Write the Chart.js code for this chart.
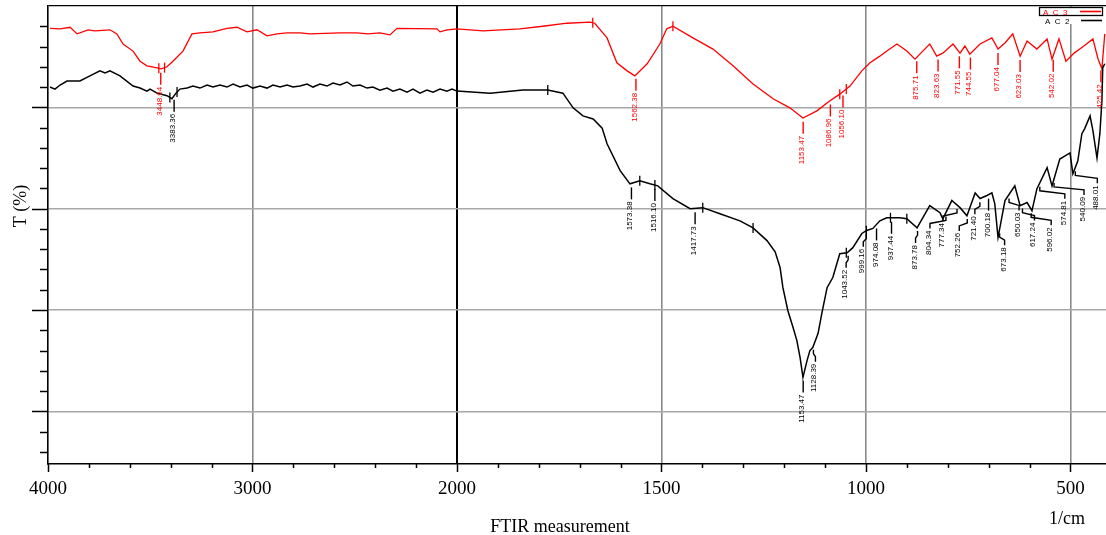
<!DOCTYPE html>
<html>
<head>
<meta charset="utf-8">
<title>FTIR AC2 / AC3</title>
<script src="https://cdn.jsdelivr.net/npm/chart.js@4.4.1/dist/chart.umd.min.js"></script>
<style>
html,body{margin:0;padding:0;background:#fff;}
#wrap{width:1106px;height:535px;position:relative;}
</style>
</head>
<body>
<div id="wrap"><canvas id="ftir_chart"></canvas></div>
<script>
// AC3 (red) : wavenumber (1/cm) and transmittance
const ac3Wn = [3990,3941,3892,3858,3804,3770,3697,3663,3633,3584,3550,3516,3467,3447,3418,3389,3340,3296,3257,3193,3125,3076,3027,2978,2929,2880,2831,2768,2719,2572,2489,2435,2377,2328,2293,2098,2083,2049,2000,1936,1846,1790,1731,1675,1663,1633,1609,1584,1565,1535,1504,1487,1472,1423,1374,1325,1276,1227,1186,1154,1120,1088,1064,1039,1010,990,966,949,924,900,880,861,844,827,812,787,770,758,746,721,692,677,660,641,623,606,582,557,545,528,511,491,467,445,433,423,416];
const ac3T = [75.6,75.5,75.8,74.5,75.3,75.1,75.3,74.5,72.5,71.1,69.1,68.2,67.8,67.6,68.0,69.1,71.1,74.5,74.7,74.9,75.6,75.8,74.9,75.3,74.1,74.5,74.7,74.7,74.5,74.7,74.7,74.5,74.7,74.3,75.6,75.5,74.9,75.3,75.5,75.1,75.5,76.0,76.6,76.8,76.6,73.7,68.8,67.2,66.2,68.6,72.5,75.5,76.0,73.7,71.5,68.2,64.6,61.7,59.9,57.9,59.3,61.3,62.6,64.2,67.2,68.8,70.1,71.1,72.5,71.1,69.5,71.1,72.5,70.1,70.7,72.5,70.7,72.1,70.5,72.5,73.7,71.5,72.7,74.5,70.1,73.1,71.5,73.5,69.5,73.5,69.1,70.7,72.1,73.5,69.7,67.6,74.5];

// AC2 (black)
const ac2Wn = [3990,3966,3941,3907,3844,3795,3746,3721,3697,3648,3584,3550,3516,3501,3467,3418,3394,3374,3355,3320,3291,3257,3222,3193,3159,3125,3095,3061,3027,2998,2963,2929,2900,2865,2831,2802,2768,2733,2704,2670,2636,2606,2572,2538,2509,2474,2440,2411,2377,2342,2313,2279,2244,2215,2181,2147,2117,2083,2049,2024,2000,1919,1839,1778,1741,1716,1692,1667,1645,1633,1601,1577,1553,1528,1509,1472,1430,1399,1357,1308,1276,1242,1222,1210,1203,1191,1178,1169,1161,1154,1144,1137,1130,1117,1108,1095,1081,1064,1046,1032,1010,998,983,966,949,917,900,875,844,819,812,790,770,753,733,721,704,692,685,677,660,636,623,606,594,582,557,545,526,501,494,482,472,465,452,445,435,428,423,421,416];
const ac2T = [64.0,63.6,64.4,65.2,65.2,66.2,67.2,66.8,67.2,66.2,64.2,63.8,63.2,63.6,62.8,62.3,61.7,62.8,63.6,63.8,64.2,63.8,64.4,64.0,64.4,64.0,64.6,64.0,64.4,63.8,64.2,63.8,64.4,64.0,64.4,64.0,64.2,64.6,64.0,64.6,64.2,64.8,64.4,65.0,64.2,64.4,63.8,64.0,63.4,63.8,63.2,63.6,63.0,63.6,62.8,63.4,63.0,63.6,63.2,63.6,63.2,62.8,63.4,63.4,62.8,59.9,58.3,57.7,55.9,52.8,47.5,44.9,45.5,44.9,44.5,42.0,40.0,40.2,39.0,37.6,36.2,33.7,31.5,28.4,24.4,19.9,16.5,14.0,10.6,6.7,10.0,12.0,12.6,15.4,19.3,24.4,26.4,31.1,31.3,32.3,35.1,35.7,36.1,37.6,38.2,38.2,38.0,36.2,40.6,39.2,38.0,41.6,40.2,38.6,43.1,42.0,42.6,43.1,41.0,34.3,41.6,44.5,40.6,41.2,39.6,43.9,48.1,44.5,49.8,51.0,46.9,49.4,54.8,55.8,58.3,55.4,50.0,54.8,61.3,67.8,68.6];

// peak picks printed on the spectra
const ac3Peaks = [3448.64,1562.38,1153.47,1086.96,1056.10,875.71,823.63,771.55,744.55,677.04,623.03,542.02,425.42];
const ac2Peaks = [3383.36,1573.38,1516.10,1417.73,1153.47,1128.39,1043.52,999.16,974.08,937.44,873.78,804.34,777.34,752.26,721.40,700.18,673.18,650.03,617.24,596.02,574.81,540.09,488.01];
// small range marks on the curves
const ac3Marks = [3458,3430,1668,1472,1064,1048];
const ac2Marks = [3404,3369,1778,1553,1516,1399,1276,1048,999,940,900];

const majorWn = [4000,3000,2000,1500,1000,500];
const minorWn = [3800,3600,3400,3200,2800,2600,2400,2200,1900,1800,1700,1600,1400,1300,1200,1100,900,800,700,600];

// label leader shift (px) for the crowded AC2 picks
const ac2Shift = [0,0,0,0,0,2,-2,-3,0,0,-2,-16,-14,-8,-5,0,5,10,12,20,25,30,22];

// the print doubles the scale below 2000 1/cm
function toU(wn){ return wn >= 2000 ? wn : 2*wn - 2000; }
function fromU(u){ return u >= 2000 ? u : (u + 2000)/2; }
const majorU = majorWn.map(toU);

function tAt(wns, ts, wn){
  for(let i=0;i<wns.length-1;i++){
    if(wn<=wns[i] && wn>=wns[i+1]){
      const f = (wns[i]-wn)/(wns[i]-wns[i+1]);
      return ts[i] + (ts[i+1]-ts[i])*f;
    }
  }
  return ts[ts.length-1];
}

function drawPeak(ctx, sx, sy, wns, ts, wn, dx, color){
  const px = sx.getPixelForValue(toU(wn));
  const cy = sy.getPixelForValue(tAt(wns, ts, wn));
  ctx.strokeStyle = color; ctx.fillStyle = color; ctx.lineWidth = 1.4;
  ctx.beginPath();
  ctx.moveTo(px, cy+4);
  if(dx){ ctx.lineTo(px, cy+8); ctx.lineTo(px+dx, cy+11); ctx.lineTo(px+dx, cy+16); }
  else ctx.lineTo(px, cy+16);
  ctx.stroke();
  ctx.save();
  ctx.translate(px+dx+1, cy+18);
  ctx.rotate(-Math.PI/2);
  ctx.textAlign = 'right'; ctx.textBaseline = 'alphabetic';
  ctx.font = '8px "Liberation Sans", Arial, sans-serif';
  ctx.fillText(wn.toFixed(2), 0, 0);
  ctx.restore();
}

function drawMark(ctx, sx, sy, wns, ts, wn, color){
  const px = sx.getPixelForValue(toU(wn));
  const cy = sy.getPixelForValue(tAt(wns, ts, wn));
  ctx.strokeStyle = color; ctx.lineWidth = 1.3;
  ctx.beginPath(); ctx.moveTo(px, cy-5); ctx.lineTo(px, cy+5); ctx.stroke();
}

const ftirDecor = {
  id: 'ftirDecor',
  afterDatasetsDraw(chart){
    const {ctx, chartArea: a, scales: {x, y}} = chart;
    ctx.save();
    ac3Marks.forEach(w => drawMark(ctx, x, y, ac3Wn, ac3T, w, '#ff0000'));
    ac2Marks.forEach(w => drawMark(ctx, x, y, ac2Wn, ac2T, w, '#000'));
    ac3Peaks.forEach(w => drawPeak(ctx, x, y, ac3Wn, ac3T, w, 0, '#ff0000'));
    ac2Peaks.forEach((w,i) => drawPeak(ctx, x, y, ac2Wn, ac2T, w, ac2Shift[i], '#000'));
    ctx.restore();
  },
  afterDraw(chart){
    const {ctx, chartArea: a, scales: {x, y}} = chart;
    ctx.save();
    ctx.strokeStyle = '#000'; ctx.lineWidth = 1.5;
    // x tick marks
    x.ticks.forEach(t => {
      const px = Math.round(x.getPixelForValue(t.value)) + 0.5;
      const len = majorU.includes(t.value) ? 8 : 4;
      ctx.beginPath(); ctx.moveTo(px, a.bottom); ctx.lineTo(px, a.bottom+len); ctx.stroke();
    });
    // y tick marks
    y.ticks.forEach(t => {
      if(t.value >= 80) return;
      const py = Math.round(y.getPixelForValue(t.value)) + 0.5;
      const len = t.value % 20 === 0 ? 16 : 8;
      ctx.beginPath(); ctx.moveTo(a.left - len, py); ctx.lineTo(a.left, py); ctx.stroke();
    });
    // axis titles
    ctx.fillStyle = '#000';
    ctx.font = '18px "Liberation Serif", "Times New Roman", serif';
    ctx.textAlign = 'center'; ctx.textBaseline = 'alphabetic';
    ctx.fillText('FTIR measurement', 560, 532);
    ctx.fillText('1/cm', 1067, 524);
    ctx.save();
    ctx.translate(26, 206); ctx.rotate(-Math.PI/2);
    ctx.fillText('T (%)', 0, 0);
    ctx.restore();
    // legend
    ctx.fillStyle = '#fff';
    ctx.fillRect(1037, 7, 69, 17);
    ctx.lineWidth = 1.3; ctx.strokeStyle = '#000';
    ctx.strokeRect(1039.5, 7.5, 63, 8);
    ctx.font = '8px "Liberation Sans", Arial, sans-serif';
    ctx.textAlign = 'left';
    ctx.fillStyle = '#ff0000';
    ctx.fillText('A  C  3', 1043, 14.5);
    ctx.fillStyle = '#000';
    ctx.fillText('A  C  2', 1045, 23.5);
    ctx.lineWidth = 1.6;
    ctx.strokeStyle = '#ff0000';
    ctx.beginPath(); ctx.moveTo(1080, 11.5); ctx.lineTo(1101, 11.5); ctx.stroke();
    ctx.strokeStyle = '#000';
    ctx.beginPath(); ctx.moveTo(1081, 20.5); ctx.lineTo(1102, 20.5); ctx.stroke();
    ctx.restore();
  }
};

const toPts = (wns, ts) => wns.map((w,i) => ({x: toU(w), y: ts[i]}));

new Chart(document.getElementById('ftir_chart').getContext('2d'), {
  type: 'line',
  data: {
    datasets: [
      { label: 'AC2', data: toPts(ac2Wn, ac2T), borderColor: '#000', borderWidth: 1.5, pointRadius: 0, tension: 0, fill: false },
      { label: 'AC3', data: toPts(ac3Wn, ac3T), borderColor: '#ff0000', borderWidth: 1.3, pointRadius: 0, tension: 0, fill: false }
    ]
  },
  options: {
    responsive: true, maintainAspectRatio: false, animation: false,
    layout: { padding: { top: 6, left: 0, right: 0, bottom: 0 } },
    plugins: { legend: { display: false }, tooltip: { enabled: false } },
    scales: {
      x: {
        type: 'linear', reverse: true, min: toU(413), max: 4000,
        afterBuildTicks: s => { s.ticks = majorWn.concat(minorWn).map(toU).sort((p,q)=>q-p).map(v => ({value: v})); },
        afterFit: s => { s.height = 71; },
        ticks: { autoSkip: false, maxRotation: 0, minRotation: 0, padding: 14, color: '#000',
          font: { family: '"Liberation Serif", "Times New Roman", serif', size: 19 },
          callback: v => majorU.includes(v) ? String(fromU(v)) : '' },
        grid: { drawTicks: false,
          color: c => { const v = c.tick && c.tick.value; if(v === 2000) return '#000'; if(majorU.includes(v) && v !== 4000) return '#8a8a8a'; return 'rgba(0,0,0,0)'; },
          lineWidth: c => (c.tick && c.tick.value === 2000) ? 2 : 1.6 },
        border: { color: '#000', width: 1.6 }
      },
      y: {
        type: 'linear', min: -10.4, max: 80,
        afterBuildTicks: s => { const t = []; for(let v=-8; v<=80; v+=4) t.push({value: v}); s.ticks = t; },
        afterFit: s => { s.width = 48; },
        ticks: { display: false },
        grid: { drawTicks: false,
          color: c => { const v = c.tick && c.tick.value; if(v === 80) return '#000'; if(v % 20 === 0) return '#a8a8a8'; return 'rgba(0,0,0,0)'; },
          lineWidth: c => (c.tick && c.tick.value === 80) ? 1.2 : 1.6 },
        border: { color: '#000', width: 1.6 }
      }
    }
  },
  plugins: [ftirDecor]
});
</script>
</body>
</html>
